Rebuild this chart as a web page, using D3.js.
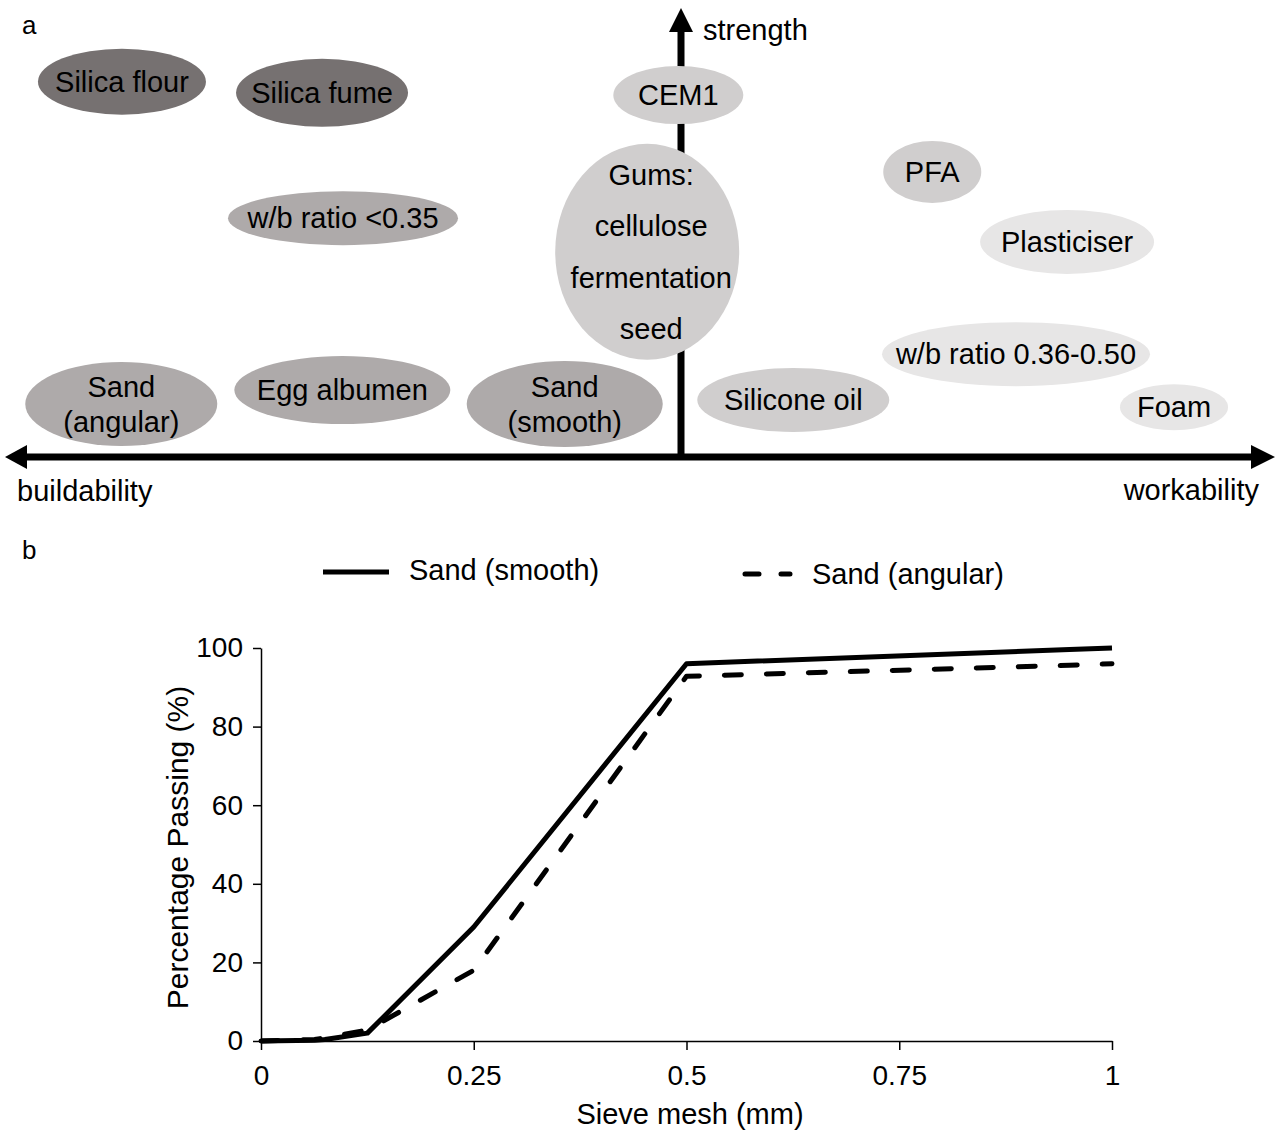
<!DOCTYPE html>
<html lang="en">
<head>
  <meta charset="UTF-8" />
  <title>Admixtures map and sand grading</title>
  <script src="https://d3js.org/d3.v7.min.js"></script>
  <style>
    body { margin: 0; background: #fff; }
    svg { display: block; font-family: Arial, "Liberation Sans", sans-serif; }
    .lbl { font-size: 29px; fill: #000; }
    .tick text { font-size: 28px; font-family: Arial, "Liberation Sans", sans-serif; fill: #000; }
    .domain, .tick line { stroke: #000; stroke-width: 1.5px; }
  </style>
</head>
<body>
<div id="chart"></div>
<script>
  // ---- panel a: admixture map (position in axis units: workability -1..1, strength 0..1)
  const items    = ["Silica flour", "Silica fume", "w/b ratio <0.35", "CEM1", "Gums:|cellulose|fermentation|seed",
                    "PFA", "Plasticiser", "w/b ratio 0.36-0.50", "Silicone oil", "Foam",
                    "Sand|(angular)", "Egg albumen", "Sand|(smooth)"];
  const itemWork = [-0.827, -0.531, -0.50, -0.004, -0.05, 0.423, 0.650, 0.564, 0.189, 0.830, -0.828, -0.501, -0.172];
  const itemStr  = [0.836, 0.811, 0.532, 0.806, 0.457, 0.635, 0.479, 0.229, 0.127, 0.111, 0.118, 0.149, 0.118];
  const itemTone = ["dark", "dark", "mid", "light", "light", "light", "pale", "pale", "light", "pale", "mid", "mid", "mid"];

  // ---- panel b: grading curves
  const sieve    = [0, 0.063, 0.075, 0.125, 0.25, 0.5, 0.95, 1];
  const smooth   = [0, 0.2, 0.4, 2, 29, 96, 99.6, 100];
  const angular  = [0, 0.4, 0.8, 2.8, 18, 92.8, 95.6, 96];
  const yTicks   = [0, 20, 40, 60, 80, 100];
  const xTicks   = [0, 0.25, 0.5, 0.75, 1];

  const W = 1281, H = 1131;
  const svg = d3.select("#chart").append("svg").attr("width", W).attr("height", H);

  // ellipse sizes (px) and tone colours
  const ellSize = [[84, 33], [86, 34], [115, 27], [65, 29], [92, 108], [49, 31], [87, 32],
                   [134, 32], [96, 32], [54, 23], [96, 42], [108, 34], [98, 43]];
  const toneColor = { dark: "#767171", mid: "#aeaaaa", light: "#d0cece", pale: "#e7e6e6" };

  const xA = d3.scaleLinear().domain([-1, 0, 1]).range([5, 681, 1275]);
  const yA = d3.scaleLinear().domain([0, 1]).range([457, 8]);

  const ga = svg.append("g");
  ga.append("text").attr("class", "lbl").attr("x", 22).attr("y", 34).style("font-size", "26px").text("a");

  const nodes = items.map((t, i) => ({ lines: t.split("|"), x: xA(itemWork[i]), y: yA(itemStr[i]),
                                       rx: ellSize[i][0], ry: ellSize[i][1], tone: itemTone[i] }));

  // vertical axis goes under the ellipses
  ga.append("line").attr("x1", xA(0)).attr("x2", xA(0)).attr("y1", yA(0)).attr("y2", yA(1) + 20)
    .attr("stroke", "#000").attr("stroke-width", 7);
  ga.append("path").attr("d", `M${xA(0)},${yA(1)} L${xA(0) - 12},${yA(1) + 24} L${xA(0) + 12},${yA(1) + 24} Z`);

  const node = ga.selectAll("g.node").data(nodes).join("g").attr("class", "node")
    .attr("transform", d => `translate(${d.x},${d.y})`);
  node.append("ellipse").attr("rx", d => d.rx).attr("ry", d => d.ry).attr("fill", d => toneColor[d.tone]);
  node.each(function (d) {
    const step = d.lines.length > 2 ? 51.5 : 35;
    d3.select(this).selectAll("text").data(d.lines).join("text")
      .attr("class", "lbl").attr("text-anchor", "middle").attr("dy", "0.35em")
      .attr("x", d.lines.length > 2 ? 4 : 0)
      .attr("y", (l, j) => (j - (d.lines.length - 1) / 2) * step)
      .text(l => l);
  });

  // horizontal double arrow
  ga.append("line").attr("x1", xA(-1) + 18).attr("x2", xA(1) - 20).attr("y1", yA(0)).attr("y2", yA(0))
    .attr("stroke", "#000").attr("stroke-width", 7);
  ga.append("path").attr("d", `M${xA(-1)},${yA(0)} L${xA(-1) + 22},${yA(0) - 12} L${xA(-1) + 22},${yA(0) + 12} Z`);
  ga.append("path").attr("d", `M${xA(1)},${yA(0)} L${xA(1) - 24},${yA(0) - 12} L${xA(1) - 24},${yA(0) + 12} Z`);

  ga.append("text").attr("class", "lbl").attr("x", 703).attr("y", 40).text("strength");
  ga.append("text").attr("class", "lbl").attr("x", 17).attr("y", 501).text("buildability");
  ga.append("text").attr("class", "lbl").attr("x", 1259).attr("y", 500).attr("text-anchor", "end").text("workability");

  // ---- panel b
  const gb = svg.append("g");
  gb.append("text").attr("class", "lbl").attr("x", 22).attr("y", 559).style("font-size", "26px").text("b");

  const x = d3.scaleLinear().domain([0, 1]).range([261, 1112]);
  const y = d3.scaleLinear().domain([0, 100]).range([1041, 648]);

  gb.append("g").attr("transform", `translate(0,${y(0)})`)
    .call(d3.axisBottom(x).tickValues(xTicks).tickFormat(d3.format("~g")).tickSize(9).tickSizeOuter(0).tickPadding(15));
  gb.append("g").attr("transform", `translate(${x(0)},0)`)
    .call(d3.axisLeft(y).tickValues(yTicks).tickSize(8).tickSizeOuter(0).tickPadding(10));

  const line = d3.line().x(d => x(d[0])).y(d => y(d[1]));
  gb.append("path").datum(sieve.map((s, i) => [s, angular[i]])).attr("d", line)
    .attr("fill", "none").attr("stroke", "#000").attr("stroke-width", 5)
    .attr("stroke-dasharray", "17,25").attr("stroke-linecap", "round").attr("stroke-linejoin", "round");
  gb.append("path").datum(sieve.map((s, i) => [s, smooth[i]])).attr("d", line)
    .attr("fill", "none").attr("stroke", "#000").attr("stroke-width", 5).attr("stroke-linejoin", "round");

  gb.append("text").attr("class", "lbl").attr("x", 690).attr("y", 1124).attr("text-anchor", "middle").text("Sieve mesh (mm)");
  gb.append("text").attr("class", "lbl").attr("text-anchor", "middle").style("font-size", "30px")
    .attr("transform", `translate(188,${(y(0) + y(100)) / 2 + 3}) rotate(-90)`).text("Percentage Passing (%)");

  // legend
  gb.append("line").attr("x1", 323).attr("x2", 389).attr("y1", 572).attr("y2", 572)
    .attr("stroke", "#000").attr("stroke-width", 5);
  gb.append("text").attr("class", "lbl").attr("x", 409).attr("y", 580).text("Sand (smooth)");
  gb.append("line").attr("x1", 745).attr("x2", 790).attr("y1", 574).attr("y2", 574)
    .attr("stroke", "#000").attr("stroke-width", 5).attr("stroke-dasharray", "14,22").attr("stroke-linecap", "round");
  gb.append("text").attr("class", "lbl").attr("x", 812).attr("y", 584).text("Sand (angular)");
</script>
</body>
</html>
